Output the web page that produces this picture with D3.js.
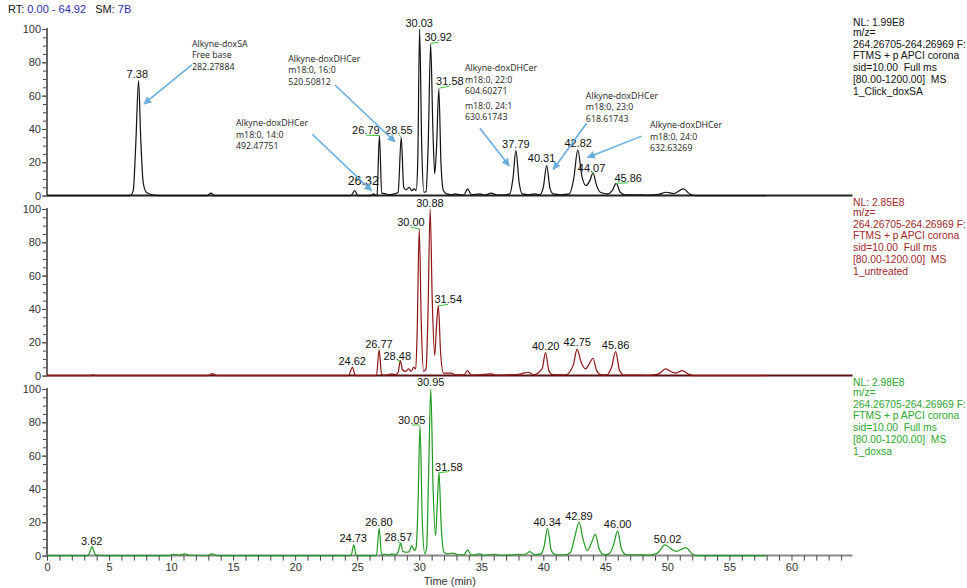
<!DOCTYPE html>
<html>
<head>
<meta charset="utf-8">
<script src="https://cdn.jsdelivr.net/npm/d3@7"></script>
<style>
  html, body { margin: 0; padding: 0; background: #fff; }
  svg { display: block; }
</style>
</head>
<body>
<div id="chart"></div>
<script>
// ── Data ──
// [retention time (min), relative abundance (%)]
const traceClick = [
  [0,0],[6.7,0],[6.95,3],[7.15,30],[7.38,69],[7.55,35],[7.75,8],[8.0,2],[8.5,0.5],[9,0],
  [12.9,0],[13.2,1.5],[13.5,0],
  [24.5,0],[24.8,3],[25.05,0],[26.1,0],[26.32,1],[26.5,0],
  [26.6,0.5],[26.79,36],[26.98,1.5],[27.3,1],[27.6,0.5],[28.0,1],
  [28.3,2],[28.55,35],[28.75,5],[28.95,3.5],[29.2,5],[29.4,3],[29.6,4],[29.75,3],
  [29.88,20],[30.03,100],[30.2,30],[30.38,2],[30.55,2.5],[30.72,30],[30.92,91],[31.1,40],[31.25,13],
  [31.4,30],[31.58,64],[31.75,20],[31.95,3],[32.2,1],
  [32.6,0.5],[32.9,1],[33.3,0.5],[33.6,0.5],[33.9,4],[34.2,0.5],[34.9,1],[35.3,0.3],[35.8,1.5],
  [36.3,0.3],[36.9,0.5],[37.3,1],
  [37.55,10],[37.79,27],[38.05,8],[38.3,1],[38.8,0.5],[39.3,1],[39.7,0.5],
  [40.0,5],[40.27,18],[40.55,4],[40.8,1],[41.4,0.5],[42.1,1],
  [42.45,10],[42.78,27.5],[43.1,12],[43.45,6],[43.75,9],[44.0,13.5],[44.3,6],[44.6,2],[45.2,1],
  [45.55,3],[45.88,7.3],[46.2,2],[46.6,0.5],[47.5,0.5],[48.5,0.3],
  [49.3,0.8],[49.9,2],[50.5,1.2],[51.3,4],[51.8,1],[52.3,0],[58,0]
];

const traceUntreated = [
  [0,0],[3.5,0],[3.7,0.3],[4,0],[13.0,0],[13.3,1.2],[13.7,0],
  [24.3,0],[24.62,5],[24.85,0],[26.55,0],[26.77,15.4],[26.97,0.5],[27.3,0.3],[27.8,1],[28.1,0.5],
  [28.3,2],[28.48,9],[28.65,3.5],[28.9,2.5],[29.15,4],[29.35,2.5],[29.55,5],[29.72,4],
  [29.83,25],[30.0,88],[30.17,30],[30.35,2.5],[30.55,4],[30.7,35],[30.88,100],[31.05,45],[31.25,12],
  [31.38,28],[31.54,42],[31.72,14],[31.95,1.5],[32.3,1.5],[32.6,1.5],[32.9,0.5],[33.6,0.5],[33.9,3],
  [34.2,0.3],[34.9,0.5],[35.8,1],[36.2,0.3],[37.3,0.5],[38.0,0.8],[38.8,2],[39.2,0.5],
  [39.9,4],[40.18,13.8],[40.45,3],[40.8,0.5],[41.8,0.5],[42.4,6],[42.72,15.8],[43.05,8],[43.4,4],
  [43.7,7],[44.0,10.4],[44.3,3],[44.7,0.5],[45.1,0.5],[45.5,5],[45.83,14.4],[46.15,3],[46.5,0.3],
  [47.3,0.3],[48.5,0.2],[49.3,1],[49.85,4],[50.4,2],[50.7,1.5],[51.2,3],[51.7,1],[52.2,0],[58,0]
];

const traceDoxsa = [
  [0,0],[3.3,0],[3.45,2],[3.62,5.4],[3.8,2],[4.0,0.2],[4.5,0],[9.8,0],[10.2,0.8],[10.6,0.2],
  [11.1,1],[11.5,0.2],[13.0,0],[13.3,1],[13.7,0],
  [24.5,0],[24.73,6.4],[24.92,0],[26.55,0],[26.77,16.4],[26.97,0.5],[27.3,0.8],[27.5,0.3],[27.8,1],
  [28.1,0.5],[28.3,2],[28.5,7.4],[28.68,2.5],[29.0,2],[29.2,2.5],[29.4,6],[29.6,3],[29.75,5],
  [29.9,30],[30.06,78],[30.25,20],[30.45,1],[30.6,5],[30.76,50],[30.93,100],[31.12,40],[31.32,12],
  [31.45,30],[31.59,50],[31.77,18],[32.0,2],[32.3,1],[32.7,1.5],[33.2,0.5],[33.6,0.5],[33.9,3.4],
  [34.2,0.3],[34.9,1],[35.2,0.2],[36.1,0.8],[36.5,0.2],[37.5,0.3],[38.0,0.8],[38.5,0.5],[38.9,2.4],
  [39.3,0.5],[39.8,1],
  [40.05,5],[40.34,16.4],[40.65,3],[41,0.5],[41.8,0.5],[42.2,2],[42.5,10],[42.89,20],[43.2,10],
  [43.55,3],[43.9,8],[44.2,12.8],[44.5,4],[44.9,0.5],[45.3,1],[45.65,6],[45.99,14.8],[46.3,4],
  [46.7,0.5],[47.5,0.5],[48.5,0.3],[49.2,1.5],[49.8,6.4],[50.4,3.5],[50.7,2.5],[51.5,4.8],[52.0,1],
  [52.4,0],[58,0]
];

// peak labels: [text, apex abundance, label time, label abundance, leader line]
const labelsClick = [
  ["7.38",69,7.28,73.0,false],["26.32",1,25.49,9.3,false],["26.79",36,25.7,39.3,true],
  ["28.55",35.3,28.36,39.3,true],["30.03",100,30.0,103.8,false],["30.92",91.4,31.53,95.0,true],
  ["31.58",64.4,32.47,68.8,true],["37.79",27,37.79,30.9,false],["40.31",18.3,39.86,22.3,false],
  ["42.82",27.7,42.81,31.7,false],["44.07",13.7,43.89,16.7,true],["45.86",7.3,46.84,10.7,true]
];
const labelsUntreated = [
  ["24.62",5,24.6,8.8,false],["26.77",15.4,26.75,19.0,false],["28.48",9,28.23,11.8,true],
  ["30.00",88,29.33,92.0,true],["30.88",100,30.86,103.8,false],["31.54",41.8,32.34,45.8,true],
  ["40.20",13.8,40.19,17.8,false],["42.75",15.8,42.73,20.0,false],["45.86",14.4,45.83,18.2,false]
];
const labelsDoxsa = [
  ["3.62",5.4,3.6,9.0,false],["24.73",6.4,24.68,10.4,false],["26.80",16.4,26.75,20.4,false],
  ["28.57",7.4,28.31,11.0,true],["30.05",78.4,29.39,81.4,true],["30.95",100,30.92,104.4,false],
  ["31.58",49.8,32.39,53.4,true],["40.34",16.4,40.31,20.4,false],["42.89",20,42.87,24.0,false],
  ["46.00",14.8,45.99,18.8,false],["50.02",6.4,50.02,9.8,false]
];

// annotations in the top trace: text lines, text anchor [t, %], arrow from [t, %] to [t, %]
const annotations = [
  { lines: ["Alkyne-doxSA", "Free base", "282.27884"], at: [11.68, 91.0], from: [11.66, 78.4], to: [7.82, 55.0] },
  { lines: ["Alkyne-doxDHCer", "m18:0, 16:0", "520.50812"], at: [19.44, 82.0], from: [23.21, 66.4], to: [28.04, 32.3] },
  { lines: ["Alkyne-doxDHCer", "m18:0, 14:0", "492.47751"], at: [15.23, 43.5], from: [21.38, 36.8], to: [26.16, 3.0] },
  { lines: ["Alkyne-doxDHCer", "m18:0, 22:0", "604.60271", "", "m18:0, 24:1", "630.61743"], at: [33.68, 76.4], from: [34.89, 40.4], to: [37.25, 17.9] },
  { lines: ["Alkyne-doxDHCer", "m18:0, 23:0", "618.61743"], at: [43.43, 59.8], from: [43.49, 43.4], to: [40.8, 15.7] },
  { lines: ["Alkyne-doxDHCer", "m18:0, 24:0", "632.63269"], at: [48.59, 42.3], from: [47.92, 35.7], to: [43.57, 22.9] }
];

const infoClick = ["NL: 1.99E8", "m/z=", "264.26705-264.26969 F:", "FTMS + p APCI corona", "sid=10.00  Full ms", "[80.00-1200.00]  MS", "1_Click_doxSA"];
const infoUntreated = ["NL: 2.85E8", "m/z=", "264.26705-264.26969 F:", "FTMS + p APCI corona", "sid=10.00  Full ms", "[80.00-1200.00]  MS", "1_untreated"];
const infoDoxsa = ["NL: 2.98E8", "m/z=", "264.26705-264.26969 F:", "FTMS + p APCI corona", "sid=10.00  Full ms", "[80.00-1200.00]  MS", "1_doxsa"];

const rtRange = [0, 64.92];
const yTicks = [0, 20, 40, 60, 80, 100];

// ── Layout ──
const width = 967, height = 588;
const left = 47, right = 852.5;
const panelH = 166.6, panelStep = 180, firstTop = 29;
const sans = "'Liberation Sans', Arial, sans-serif";

const panels = [
  { trace: traceClick, labels: labelsClick, info: infoClick, line: "#111", text: "#111", base: "#222" },
  { trace: traceUntreated, labels: labelsUntreated, info: infoUntreated, line: "#8e1414", text: "#a0262a", base: "#5a1010" },
  { trace: traceDoxsa, labels: labelsDoxsa, info: infoDoxsa, line: "#1e9a1e", text: "#2ea52e", base: "#888" }
];

const svg = d3.select("#chart").append("svg")
  .attr("width", width).attr("height", height)
  .attr("font-family", sans);

const x = d3.scaleLinear().domain(rtRange).range([left, right]);

svg.append("defs").append("marker")
  .attr("id", "arrow")
  .attr("viewBox", "0 0 10 10")
  .attr("refX", 9).attr("refY", 5)
  .attr("markerWidth", 5).attr("markerHeight", 5)
  .attr("markerUnits", "strokeWidth")
  .attr("orient", "auto")
  .append("path").attr("d", "M0,0L10,5L0,10z").attr("fill", "#6aaede");

// header
const head = svg.append("text").attr("x", 8).attr("y", 13).attr("font-size", 11);
head.append("tspan").attr("fill", "#111").text("RT: ");
head.append("tspan").attr("fill", "#2b2bb0").text("0.00 - 64.92");
head.append("tspan").attr("fill", "#111").text("   SM: ");
head.append("tspan").attr("fill", "#2b2bb0").text("7B");
head.attr("xml:space", "preserve").style("white-space", "pre");

panels.forEach((p, i) => {
  const top = firstTop + i * panelStep;
  const bottom = top + panelH;
  const y = d3.scaleLinear().domain([0, 100]).range([bottom, top]);
  const g = svg.append("g");

  // y axis: minor ticks every 5, labelled ticks every 20
  g.append("g")
    .attr("transform", `translate(${left},0)`)
    .call(d3.axisLeft(y).tickValues(d3.range(0, 101, 5)).tickSize(4).tickFormat(""))
    .call(a => a.select(".domain").remove())
    .call(a => a.selectAll(".tick line").attr("stroke", "#444"));
  g.append("g")
    .attr("transform", `translate(${left},0)`)
    .call(d3.axisLeft(y).tickValues(yTicks).tickSize(5).tickPadding(1))
    .call(a => a.select(".domain").remove())
    .call(a => a.selectAll(".tick line").attr("stroke", "#444"))
    .call(a => a.selectAll(".tick text").attr("fill", "#333").attr("font-size", 11).attr("font-family", sans));
  g.append("line")
    .attr("x1", left).attr("x2", left).attr("y1", top - 1).attr("y2", bottom)
    .attr("stroke", "#666").attr("stroke-width", 2);

  // baseline
  g.append("line")
    .attr("x1", left).attr("x2", right).attr("y1", bottom).attr("y2", bottom)
    .attr("stroke", p.base).attr("stroke-width", 2);

  // trace
  const line = d3.line()
    .x(d => x(d[0])).y(d => y(d[1]))
    .curve(d3.curveMonotoneX);
  g.append("path")
    .datum(p.trace)
    .attr("d", line)
    .attr("fill", "none")
    .attr("stroke", p.line)
    .attr("stroke-width", 1.2)
    .attr("stroke-linejoin", "round");

  // peak labels
  p.labels.forEach(([txt, apexV, lt, lv, leader]) => {
    const big = txt === "26.32";
    if (leader) {
      g.append("line")
        .attr("x1", x(+txt)).attr("y1", y(apexV))
        .attr("x2", x(lt)).attr("y2", y(lv) + 5)
        .attr("stroke", "#3cc03c").attr("stroke-width", 1);
    }
    g.append("text")
      .attr("x", x(lt)).attr("y", y(lv))
      .attr("dy", "0.36em")
      .attr("text-anchor", "middle")
      .attr("font-size", big ? 12.5 : 11)
      .attr("fill", "#111")
      .text(txt);
  });

  // info block on the right
  const info = g.append("text")
    .attr("x", right + 0.5)
    .attr("y", top - 6.3)
    .attr("dy", "0.35em")
    .attr("font-size", 10.3)
    .attr("fill", p.text)
    .style("white-space", "pre");
  p.info.forEach((s, k) => {
    info.append("tspan")
      .attr("x", right + 0.5)
      .attr("y", top - 6.3 + (k === 0 ? 0 : 13.3 + (k - 1) * 11.7))
      .text(s);
  });

  // annotations only in the top trace
  if (i === 0) {
    annotations.forEach(a => {
      g.append("line")
        .attr("x1", x(a.from[0])).attr("y1", y(a.from[1]))
        .attr("x2", x(a.to[0])).attr("y2", y(a.to[1]))
        .attr("stroke", "#6aaede").attr("stroke-width", 1.6)
        .attr("marker-end", "url(#arrow)");
      let yy = y(a.at[1]);
      a.lines.forEach((s, k) => {
        if (k > 0) yy += s === "" ? 3.7 : 11.3;
        if (s === "") return;
        g.append("text")
          .attr("x", x(a.at[0])).attr("y", yy)
          .attr("dy", "0.35em")
          .attr("font-family", "'Open Sans', sans-serif")
          .attr("font-size", 8.8)
          .attr("fill", "#1e1e1e")
          .text(s);
      });
    });
  }

  // time axis under the last trace
  if (i === panels.length - 1) {
    g.append("g")
      .attr("transform", `translate(0,${bottom})`)
      .call(d3.axisBottom(x).tickValues(d3.range(0, 65, 1)).tickSize(5).tickPadding(3)
        .tickFormat(d => d % 5 === 0 ? d : ""))
      .call(a => a.select(".domain").remove())
      .call(a => a.selectAll(".tick line").attr("stroke", "#444"))
      .call(a => a.selectAll(".tick text").attr("fill", "#333").attr("font-size", 11).attr("font-family", sans));
    g.append("text")
      .attr("x", x(rtRange[1] / 2)).attr("y", bottom + 29)
      .attr("text-anchor", "middle")
      .attr("font-size", 11).attr("fill", "#333")
      .text("Time (min)");
  }
});
</script>
</body>
</html>
